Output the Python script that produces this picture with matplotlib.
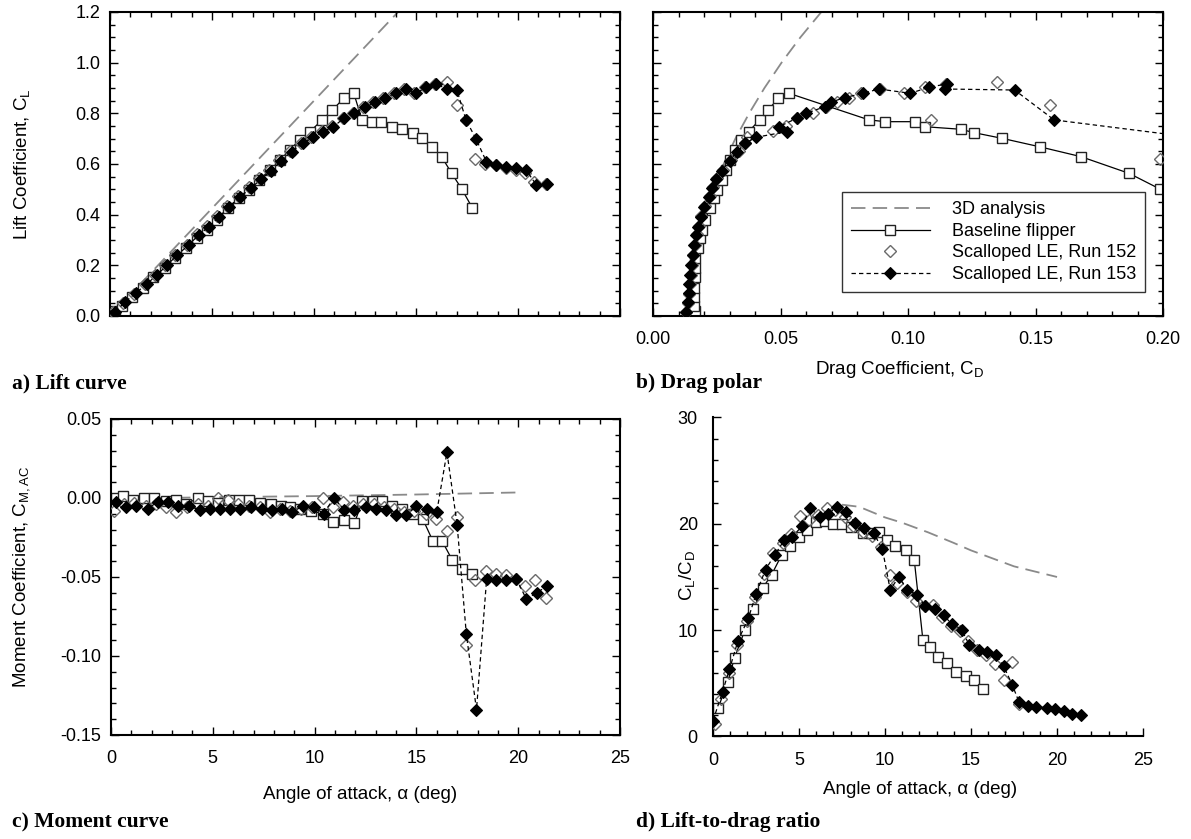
import matplotlib
matplotlib.use("Agg")
import matplotlib.pyplot as plt
from matplotlib.ticker import MultipleLocator, FormatStrFormatter, NullFormatter

plt.rcParams["font.family"] = ["Liberation Sans", "DejaVu Sans"]
plt.rcParams["mathtext.fontset"] = "custom"
plt.rcParams["mathtext.rm"] = "Liberation Sans"
plt.rcParams["axes.unicode_minus"] = False

# ---- 3D analysis
alpha_3d = [0, 5, 10, 15, 20]
cl_3d = [0.0, 0.425, 0.85, 1.275, 1.70]
cm_3d = [-0.0005, 0.0005, 0.0012, 0.0022, 0.0035]
cl_3d_polar = [0.5, 0.6, 0.7, 0.8, 0.9, 1.0, 1.1, 1.2, 1.3]
cd_3d_polar = [0.0245, 0.0277, 0.0323, 0.0377, 0.0437, 0.0504, 0.0578, 0.066, 0.075]
alpha_3d_ld = [7.5, 8.5, 10, 11, 12.5, 14, 15, 16, 17.5, 19, 20]
ld_3d = [21.8, 21.6, 20.6, 20.1, 19.2, 18.2, 17.5, 16.9, 16.0, 15.4, 15.0]

# ---- Baseline flipper
alpha_base = [0.25, 0.6, 1.1, 1.6, 2.1, 2.7, 3.2, 3.7, 4.25, 4.75, 5.25, 5.8, 6.3, 6.8,
              7.3, 7.85, 8.35, 8.8, 9.3, 9.8, 10.4, 10.9, 11.45, 11.95, 12.35, 12.85,
              13.3, 13.8, 14.3, 14.85, 15.3, 15.8, 16.25, 16.75, 17.25, 17.75]
cl_base = [0.02, 0.04, 0.076, 0.109, 0.155, 0.188, 0.228, 0.267, 0.307, 0.34, 0.379,
           0.425, 0.465, 0.497, 0.537, 0.576, 0.616, 0.655, 0.695, 0.728, 0.774, 0.813,
           0.859, 0.879, 0.774, 0.767, 0.767, 0.747, 0.737, 0.724, 0.701, 0.668, 0.629,
           0.563, 0.500, 0.428]
cd_base = [0.0163, 0.0162, 0.0162, 0.0162, 0.0163, 0.0164, 0.0166, 0.0175, 0.0185,
           0.0192, 0.0205, 0.0222, 0.0238, 0.0252, 0.027, 0.0285, 0.0302, 0.032, 0.0345,
           0.0375, 0.0418, 0.0452, 0.049, 0.0533, 0.0847, 0.0911, 0.1026, 0.1068, 0.1208,
           0.1257, 0.137, 0.1516, 0.1678, 0.1867, 0.199, 0.222]
cm_base = [0.000, 0.001, -0.001, 0.000, 0.000, -0.002, -0.001, -0.004, 0.000, -0.002,
           -0.003, -0.001, -0.001, -0.001, -0.003, -0.004, -0.005, -0.006, -0.007, -0.008,
           -0.010, -0.015, -0.014, -0.016, -0.002, -0.002, -0.002, -0.005, -0.007, -0.010,
           -0.013, -0.027, -0.027, -0.039, -0.045, -0.048]
alpha_ld_base = [0.3, 0.85, 1.25, 1.85, 2.35, 2.9, 3.4, 4.0, 4.5, 5.0, 5.45, 6.0, 6.5, 7.0,
                 7.5, 8.0, 8.7, 9.2, 9.65, 10.1, 10.6, 11.2, 11.7, 12.2, 12.6, 13.1, 13.6,
                 14.1, 14.7, 15.2, 15.7]
ld_base = [2.7, 5.1, 7.4, 10.0, 12.0, 14.0, 15.2, 17.1, 17.9, 18.8, 19.4, 20.2, 20.3, 20.0,
           20.0, 19.7, 19.1, 19.1, 19.2, 18.5, 17.9, 17.5, 16.6, 9.1, 8.4, 7.5, 6.9, 6.05,
           5.7, 5.3, 4.5]

# ---- Scalloped LE, Run 152
alpha_152 = [0.15, 0.65, 1.15, 1.7, 2.2, 2.7, 3.2, 3.75, 4.25, 4.75, 5.25, 5.75, 6.25, 6.8,
             7.3, 7.8, 8.3, 8.8, 9.35, 9.85, 10.4, 10.9, 11.4, 11.9, 12.4, 12.9, 13.4, 13.9,
             14.4, 14.9, 15.45, 15.95, 16.5, 17.0, 17.45, 17.9, 18.4, 18.9, 19.4, 19.9,
             20.35, 20.8, 21.35]
cl_152 = [0.015, 0.052, 0.088, 0.126, 0.163, 0.202, 0.242, 0.282, 0.322, 0.356, 0.395,
          0.435, 0.472, 0.508, 0.543, 0.578, 0.615, 0.650, 0.684, 0.708, 0.730, 0.750,
          0.781, 0.800, 0.826, 0.845, 0.862, 0.880, 0.896, 0.882, 0.903, 0.914, 0.925,
          0.833, 0.774, 0.620, 0.600, 0.595, 0.585, 0.575, 0.565, 0.530, 0.520]
cd_152 = [0.0131, 0.0138, 0.0142, 0.0145, 0.0148, 0.0153, 0.0158, 0.0164, 0.0172, 0.0180,
          0.0190, 0.0204, 0.0222, 0.0236, 0.0252, 0.0276, 0.0305, 0.0336, 0.0360, 0.0367,
          0.0472, 0.0521, 0.0565, 0.0626, 0.0680, 0.0720, 0.0767, 0.0816, 0.0890, 0.0984,
          0.1065, 0.1150, 0.1348, 0.1556, 0.1089, 0.199, 0.215, 0.222, 0.230, 0.235,
          0.245, 0.250, 0.260]
cm_152 = [-0.008, -0.004, -0.003, -0.005, -0.004, -0.006, -0.009, -0.006, -0.004, -0.005,
          0.000, -0.001, -0.004, -0.005, -0.006, -0.009, -0.007, -0.008, -0.007, -0.006,
          0.000, -0.006, -0.0025, -0.005, -0.004, -0.004, -0.006, -0.0067, -0.009, -0.008,
          -0.010, -0.013, -0.021, -0.012, -0.093, -0.052, -0.046, -0.048, -0.049, -0.051,
          -0.056, -0.052, -0.063]
alpha_ld_152 = [0.1, 0.45, 0.9, 1.4, 1.95, 2.45, 2.95, 3.5, 4.05, 4.55, 5.05, 5.55, 6.1,
                6.6, 7.1, 7.65, 8.15, 8.7, 9.25, 9.75, 10.3, 10.7, 11.25, 11.8, 12.3, 12.8,
                13.3, 13.85, 14.35, 14.8, 15.35, 15.85, 16.4, 16.9, 17.4, 17.8]
ld_152 = [1.2, 3.5, 6.0, 8.6, 10.9, 13.1, 15.3, 17.3, 18.2, 19.0, 20.7, 20.4, 20.8, 21.5,
          21.3, 20.6, 19.8, 19.2, 18.9, 17.8, 15.2, 14.4, 13.6, 12.7, 12.3, 12.4, 11.2,
          10.4, 9.9, 9.0, 8.1, 7.7, 6.8, 5.3, 7.05, 3.1]

# ---- Scalloped LE, Run 153
alpha_153 = [0.25, 0.75, 1.25, 1.8, 2.3, 2.8, 3.3, 3.85, 4.35, 4.85, 5.35, 5.85, 6.35, 6.9,
             7.4, 7.9, 8.4, 8.9, 9.45, 9.95, 10.45, 10.95, 11.45, 11.95, 12.5, 13.0, 13.5,
             14.0, 14.5, 15.0, 15.5, 16.0, 16.5, 17.0, 17.45, 17.95, 18.45, 18.9, 19.4,
             19.9, 20.4, 20.9, 21.4]
cl_153 = [0.017, 0.056, 0.09, 0.126, 0.162, 0.201, 0.241, 0.28, 0.32, 0.353, 0.392, 0.432,
          0.469, 0.504, 0.54, 0.574, 0.613, 0.649, 0.682, 0.705, 0.728, 0.747, 0.78, 0.80,
          0.826, 0.844, 0.862, 0.879, 0.896, 0.879, 0.903, 0.916, 0.896, 0.892, 0.774,
          0.697, 0.609, 0.596, 0.589, 0.583, 0.576, 0.517, 0.52]
cd_153 = [0.0129, 0.0136, 0.0140, 0.0142, 0.0145, 0.0150, 0.0156, 0.0162, 0.0170, 0.0177,
          0.0187, 0.0200, 0.0218, 0.0232, 0.0247, 0.0270, 0.0300, 0.0330, 0.0362, 0.0402,
          0.0526, 0.0493, 0.0563, 0.0601, 0.0673, 0.0697, 0.0752, 0.0823, 0.0886, 0.1009,
          0.1082, 0.1152, 0.1145, 0.1418, 0.1573, 0.218, 0.210, 0.214, 0.218, 0.224, 0.240,
          0.246, 0.254]
cm_153 = [-0.0025, -0.0057, -0.005, -0.0067, -0.0025, -0.0025, -0.005, -0.005, -0.0078,
          -0.0067, -0.0067, -0.0067, -0.0067, -0.006, -0.0067, -0.0078, -0.0067, -0.0088,
          -0.005, -0.0057, -0.0099, 0.0002, -0.0078, -0.0078, -0.0057, -0.0067, -0.0078,
          -0.011, -0.011, -0.005, -0.0067, -0.0088, 0.029, -0.017, -0.086, -0.134, -0.051,
          -0.052, -0.052, -0.051, -0.064, -0.060, -0.056]
alpha_ld_153 = [0.0, 0.55, 0.95, 1.45, 2.05, 2.5, 3.05, 3.6, 4.15, 4.6, 5.2, 5.65, 6.2, 6.7,
                7.2, 7.75, 8.25, 8.8, 9.35, 9.85, 10.3, 10.8, 11.3, 11.85, 12.35, 12.9,
                13.4, 13.9, 14.45, 14.9, 15.45, 15.9, 16.45, 16.9, 17.4, 17.8, 18.3, 18.8,
                19.4, 19.9, 20.4, 20.9, 21.4]
ld_153 = [1.5, 4.2, 6.3, 9.0, 11.1, 13.4, 15.7, 17.1, 18.5, 18.8, 19.8, 21.5, 20.6, 20.9,
          21.6, 21.1, 20.1, 19.6, 19.1, 17.6, 13.8, 15.0, 13.8, 13.3, 12.25, 12.0, 11.4,
          10.55, 10.05, 8.6, 8.1, 7.9, 7.7, 6.6, 4.85, 3.2, 2.9, 2.8, 2.7, 2.6, 2.4, 2.1,
          2.05]

GRAY = "#8a8a8a"
LABEL_FS = 13.5
TICK_FS = 13


def style_axes(ax, box=True):
    for name, sp in ax.spines.items():
        sp.set_linewidth(1.5)
        if not box and name in ("top", "right"):
            sp.set_visible(False)
    ax.tick_params(which="both", direction="in", top=box, right=box,
                   labelsize=TICK_FS, width=1)
    ax.tick_params(which="major", length=6, pad=7)
    ax.tick_params(which="minor", length=3.5)
    ax.tick_params(axis="x", which="major", pad=11)


def draw(ax, x3, y3, xb, yb, x2, y2, x3b, y3b):
    ax.plot(x3, y3, color=GRAY, lw=1.3, dashes=(8, 4), zorder=1, label="3D analysis")
    ax.plot(xb, yb, color="black", lw=0.9, marker="s", ms=7.6, mfc="white", mec="#222222",
            mew=1.0, zorder=2, label="Baseline flipper")
    ax.plot(x2, y2, ls="none", marker="D", ms=5.8, mfc="none", mec="#6a6a6a", mew=1.0,
            zorder=3, label="Scalloped LE, Run 152")
    ax.plot(x3b, y3b, color="black", lw=0.9, dashes=(3.5, 2.5), marker="D", ms=5.8,
            mfc="black", mec="black", mew=0.8, zorder=4, label="Scalloped LE, Run 153")


fig = plt.figure(figsize=(11.91, 8.39), dpi=100)

# a) Lift curve
ax_a = fig.add_axes([0.0924, 0.6234, 0.4282, 0.3623])
draw(ax_a, alpha_3d, cl_3d, alpha_base, cl_base, alpha_152, cl_152, alpha_153, cl_153)
ax_a.set_xlim(0, 25)
ax_a.set_ylim(0, 1.2)
ax_a.xaxis.set_major_locator(MultipleLocator(5))
ax_a.xaxis.set_minor_locator(MultipleLocator(1))
ax_a.yaxis.set_major_locator(MultipleLocator(0.2))
ax_a.yaxis.set_minor_locator(MultipleLocator(0.05))
ax_a.yaxis.set_major_formatter(FormatStrFormatter("%.1f"))
ax_a.xaxis.set_major_formatter(NullFormatter())
style_axes(ax_a)
ax_a.set_ylabel(r"Lift Coefficient, $\mathregular{C_L}$", fontsize=LABEL_FS)
ax_a.yaxis.set_label_coords(-0.153, 0.5)

# b) Drag polar
ax_b = fig.add_axes([0.5483, 0.6234, 0.4282, 0.3623])
draw(ax_b, cd_3d_polar, cl_3d_polar, cd_base, cl_base, cd_152, cl_152, cd_153, cl_153)
ax_b.set_xlim(0, 0.2)
ax_b.set_ylim(0, 1.2)
ax_b.xaxis.set_major_locator(MultipleLocator(0.05))
ax_b.xaxis.set_minor_locator(MultipleLocator(0.01))
ax_b.yaxis.set_major_locator(MultipleLocator(0.2))
ax_b.yaxis.set_minor_locator(MultipleLocator(0.05))
ax_b.xaxis.set_major_formatter(FormatStrFormatter("%.2f"))
ax_b.yaxis.set_major_formatter(NullFormatter())
style_axes(ax_b)
ax_b.set_xlabel(r"Drag Coefficient, $\mathregular{C_D}$", fontsize=LABEL_FS)
ax_b.xaxis.set_label_coords(0.484, -0.141)
leg = ax_b.legend(loc="lower right", bbox_to_anchor=(0.965, 0.079), borderaxespad=0,
                  frameon=True, fancybox=False, edgecolor="black", fontsize=13,
                  handlelength=4.4, handletextpad=1.2, borderpad=0.5, labelspacing=0.25)
leg.get_frame().set_linewidth(1.0)

# c) Moment curve
ax_c = fig.add_axes([0.0932, 0.124, 0.4274, 0.3766])
draw(ax_c, alpha_3d, cm_3d, alpha_base, cm_base, alpha_152, cm_152, alpha_153, cm_153)
ax_c.set_xlim(0, 25)
ax_c.set_ylim(-0.15, 0.05)
ax_c.xaxis.set_major_locator(MultipleLocator(5))
ax_c.xaxis.set_minor_locator(MultipleLocator(1))
ax_c.yaxis.set_major_locator(MultipleLocator(0.05))
ax_c.yaxis.set_minor_locator(MultipleLocator(0.01))
ax_c.yaxis.set_major_formatter(FormatStrFormatter("%.2f"))
style_axes(ax_c)
ax_c.set_ylabel(r"Moment Coefficient, $\mathregular{C_{M,AC}}$", fontsize=LABEL_FS)
ax_c.yaxis.set_label_coords(-0.155, 0.5)
ax_c.set_xlabel("Angle of attack, α (deg)", fontsize=LABEL_FS)
ax_c.xaxis.set_label_coords(0.489, -0.162)

# d) Lift-to-drag ratio
ax_d = fig.add_axes([0.5987, 0.1222, 0.3610, 0.3802])
draw(ax_d, alpha_3d_ld, ld_3d, alpha_ld_base, ld_base, alpha_ld_152, ld_152,
     alpha_ld_153, ld_153)
ax_d.set_xlim(0, 25)
ax_d.set_ylim(0, 30)
ax_d.xaxis.set_major_locator(MultipleLocator(5))
ax_d.xaxis.set_minor_locator(MultipleLocator(1))
ax_d.yaxis.set_major_locator(MultipleLocator(10))
ax_d.yaxis.set_minor_locator(MultipleLocator(2))
style_axes(ax_d, box=False)
ax_d.tick_params(axis="y", which="major", pad=11)
ax_d.set_ylabel(r"$\mathregular{C_L/C_D}$", fontsize=LABEL_FS)
ax_d.yaxis.set_label_coords(-0.037, 0.505)
ax_d.set_xlabel("Angle of attack, α (deg)", fontsize=LABEL_FS)
ax_d.xaxis.set_label_coords(0.481, -0.14)

# panel captions
cap = dict(family=["Liberation Serif", "DejaVu Serif"], fontweight="bold", fontsize=15.5,
           va="center", ha="left")
fig.text(12 / 1191, 1 - 383 / 839, "a) Lift curve", **cap)
fig.text(636 / 1191, 1 - 383 / 839, "b) Drag polar", **cap)
fig.text(12 / 1191, 1 - 822 / 839, "c) Moment curve", **cap)
fig.text(636 / 1191, 1 - 822 / 839, "d) Lift-to-drag ratio", **cap)

fig.savefig("out.png", dpi=100)
